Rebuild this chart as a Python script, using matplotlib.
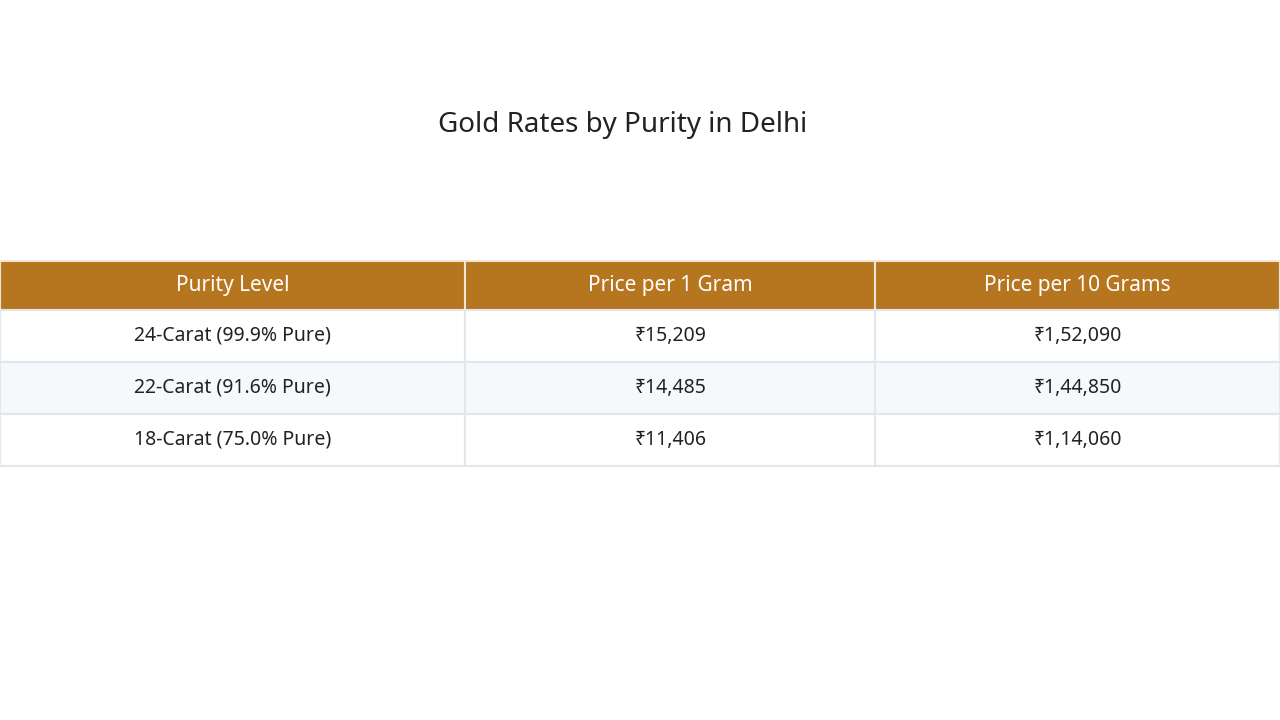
import matplotlib
matplotlib.use("Agg")
import matplotlib.pyplot as plt
from matplotlib.patches import Rectangle

title = "Gold Rates by Purity in Delhi"
headers = ["Purity Level", "Price per 1 Gram", "Price per 10 Grams"]
purity = ["24-Carat (99.9% Pure)", "22-Carat (91.6% Pure)", "18-Carat (75.0% Pure)"]
price_1g = ["₹15,209", "₹14,485", "₹11,406"]
price_10g = ["₹1,52,090", "₹1,44,850", "₹1,14,060"]

fam = ["Noto Sans", "DejaVu Sans"]
fig = plt.figure(figsize=(12.8, 7.2), dpi=100)
ax = fig.add_axes([0, 0, 1, 1])
ax.set_xlim(0, 1280); ax.set_ylim(720, 0); ax.axis("off")

col_edges = [0, 465, 875, 1280]
header_top, header_h, row_h = 261, 49, 52
gold = "#B5761F"; border = "#E3E7EB"

ax.text(623, 125, title, ha="center", va="center", fontsize=20, color="#222222", family=fam)

for i, h in enumerate(headers):
    x0, x1 = col_edges[i], col_edges[i + 1]
    ax.add_patch(Rectangle((x0, header_top), x1 - x0, header_h, facecolor=gold, edgecolor="#F0E6D6", lw=1.5))
    ax.text((x0 + x1) / 2, header_top + header_h / 2, h, ha="center", va="center",
            fontsize=15, color="white", family=fam)

rows = list(zip(purity, price_1g, price_10g))
for r, row in enumerate(rows):
    y0 = header_top + header_h + r * row_h
    bg = "#F5F9FC" if r % 2 == 1 else "white"
    for i, val in enumerate(row):
        x0, x1 = col_edges[i], col_edges[i + 1]
        ax.add_patch(Rectangle((x0, y0), x1 - x0, row_h, facecolor=bg, edgecolor=border, lw=1.5))
        ax.text((x0 + x1) / 2, y0 + row_h / 2, val, ha="center", va="center",
                fontsize=14, color="#222222", family=fam)

fig.savefig("out.png", dpi=100)
